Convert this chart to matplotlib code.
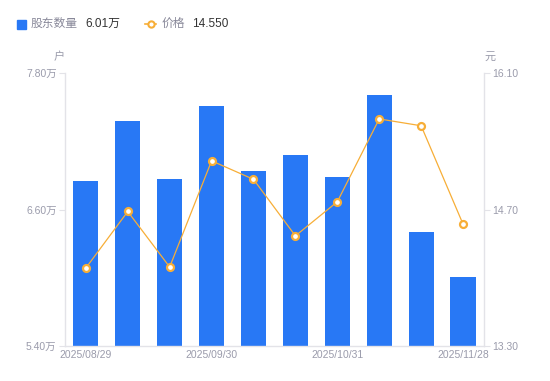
import numpy as np
import matplotlib.pyplot as plt

plt.rcParams['font.family'] = ['Liberation Sans', 'Noto Sans CJK SC', 'DejaVu Sans']

# 数据
dates = ['2025/08/29', '', '', '2025/09/30', '', '', '2025/10/31', '', '', '2025/11/28']
holders = [6.85, 7.38, 6.87, 7.51, 6.94, 7.08, 6.89, 7.61, 6.40, 6.01]  # 万户
price = [14.10, 14.68, 14.11, 15.20, 15.01, 14.43, 14.78, 15.63, 15.56, 14.55]

blue = '#2878F5'
orange = '#F7AE37'
grey = '#9A9BAB'
axcol = '#E3E3E8'

fig = plt.figure(figsize=(5.5, 3.81), dpi=100)
ax = fig.add_axes([0.118, 0.092, 0.762, 0.716])
ax2 = ax.twinx()

x = np.arange(len(holders))
ax.bar(x, holders, width=0.6, color=blue, zorder=2)
ax.set_xlim(-0.5, len(holders) - 0.5)
ax.set_ylim(5.4, 7.8)
ax.set_yticks([5.4, 6.6, 7.8])
ax.set_yticklabels(['%.2f万' % v for v in [5.4, 6.6, 7.8]])
ax.set_xticks(x)
ax.set_xticklabels(dates)

ax2.plot(x, price, color=orange, lw=0.9, marker='o', ms=5, mfc='white',
         mec=orange, mew=1.6, zorder=3)
ax2.set_ylim(13.3, 16.1)
ax2.set_yticks([13.3, 14.7, 16.1])
ax2.set_yticklabels(['%.2f' % v for v in [13.3, 14.7, 16.1]])

for a in (ax, ax2):
    for s in a.spines.values():
        s.set_visible(False)
ax.spines['left'].set_visible(True)
ax.spines['bottom'].set_visible(True)
ax2.spines['right'].set_visible(True)
for s in (ax.spines['left'], ax.spines['bottom'], ax2.spines['right']):
    s.set_color(axcol)
    s.set_linewidth(1)

ax.tick_params(axis='y', colors=axcol, labelcolor=grey, labelsize=7.5, length=4, pad=2)
ax.tick_params(axis='x', length=0, labelcolor=grey, labelsize=7.5, pad=3)
ax2.tick_params(axis='y', colors=axcol, labelcolor=grey, labelsize=7.5, length=4, pad=2)

# 单位
fig.text(59 / 550, 1 - 57 / 381, '户', color=grey, fontsize=8, ha='center', va='center')
fig.text(490 / 550, 1 - 57 / 381, '元', color=grey, fontsize=8, ha='center', va='center')

# 图例
ly = 1 - 24 / 381
fig.patches.append(plt.Rectangle((17 / 550, 1 - 28.5 / 381), 9 / 550, 9 / 381,
                                 transform=fig.transFigure, color=blue, figure=fig))
fig.text(31 / 550, ly, '股东数量', color='#888899', fontsize=8.5, va='center')
fig.text(85 / 550, ly, '%.2f万' % holders[-1], color='#333333', fontsize=8.5, va='center')
fig.add_artist(plt.Line2D([145 / 550, 156 / 550], [ly, ly], color=orange, lw=1.2,
                          transform=fig.transFigure))
fig.add_artist(plt.Line2D([150.5 / 550], [ly], color=orange, marker='o', ms=4.5,
                          mfc='white', mew=1.5, transform=fig.transFigure))
fig.text(162 / 550, ly, '价格', color='#888899', fontsize=8.5, va='center')
fig.text(192 / 550, ly, '%.3f' % price[-1], color='#333333', fontsize=8.5, va='center')

fig.savefig('out.png', dpi=100)
